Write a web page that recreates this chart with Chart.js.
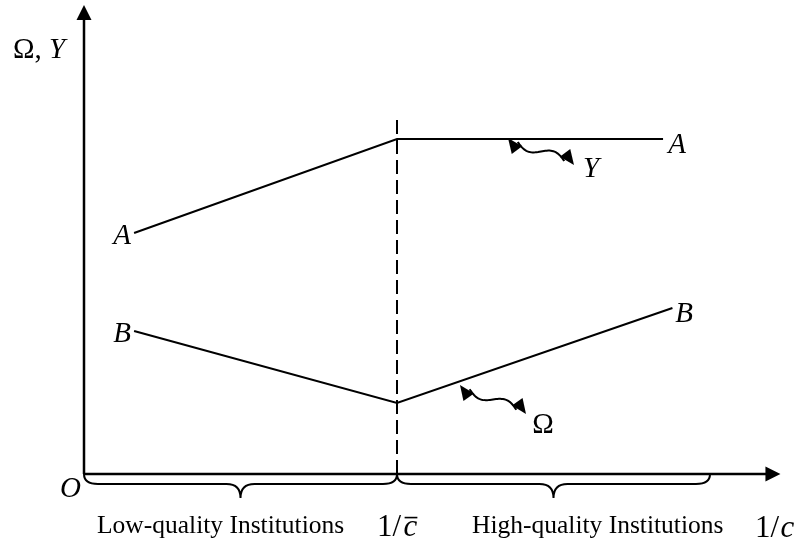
<!DOCTYPE html>
<html>
<head>
<meta charset="utf-8">
<script src="https://cdn.jsdelivr.net/npm/chart.js@4.4.0/dist/chart.umd.min.js"></script>
<style>
  html, body { margin: 0; padding: 0; background: #fff; }
  #wrap { width: 803px; height: 550px; }
</style>
</head>
<body>
<div id="wrap"><canvas id="diagram" width="803" height="550"></canvas></div>
<script>
// x axis: 1/c, scaled so the threshold 1/c-bar sits at 1
// y axis: Omega and Y, arbitrary units
const yCurveX = [0.16, 1.0, 1.85];
const yCurveVals = [2.41, 3.35, 3.35];       // curve A-A (Y)
const omegaCurveX = [0.16, 1.0, 1.88];
const omegaCurveVals = [1.43, 0.71, 1.66];   // curve B-B (Omega)
const threshold = 1.0;
const regionEdges = [0, 1.0, 2.0];
const regionLabels = ['Low-quality Institutions', 'High-quality Institutions'];

const SERIF = '"Liberation Serif", "Times New Roman", serif';

function toPoints(xs, ys) {
    return xs.map((x, i) => ({ x: x, y: ys[i] }));
}

// filled arrow head with tip at (x, y), pointing along angle a
function arrowHead(ctx, x, y, a, len, half) {
    ctx.save();
    ctx.translate(x, y);
    ctx.rotate(a);
    ctx.beginPath();
    ctx.moveTo(0, 0);
    ctx.lineTo(-len, -half);
    ctx.lineTo(-len, half);
    ctx.closePath();
    ctx.fill();
    ctx.restore();
}

// wavy double-headed arrow between two tips
function wavyArrow(ctx, x0, y0, x1, y1) {
    const dx = x1 - x0, dy = y1 - y0;
    const L = Math.hypot(dx, dy);
    const ux = dx / L, uy = dy / L;
    const nx = -uy, ny = ux;
    const head = 15, amp = 5;
    const pts = [];
    for (let i = 0; i <= 40; i++) {
        const t = i / 40;
        const s = head * 0.7 + t * (L - head * 1.4);
        const off = amp * Math.sin(2 * Math.PI * t);
        pts.push([x0 + ux * s + nx * off, y0 + uy * s + ny * off]);
    }
    ctx.beginPath();
    pts.forEach((p, i) => i ? ctx.lineTo(p[0], p[1]) : ctx.moveTo(p[0], p[1]));
    ctx.stroke();
    const a0 = Math.atan2(pts[0][1] - pts[3][1], pts[0][0] - pts[3][0]);
    const a1 = Math.atan2(pts[40][1] - pts[37][1], pts[40][0] - pts[37][0]);
    arrowHead(ctx, x0, y0, a0, head, 6.5);
    arrowHead(ctx, x1, y1, a1, head, 6.5);
}

function brace(ctx, xa, xb, yTop) {
    const mid = (xa + xb) / 2, yMid = yTop + 10, yTip = yTop + 24, r = 14;
    ctx.beginPath();
    ctx.moveTo(xa, yTop);
    ctx.quadraticCurveTo(xa, yMid, xa + r, yMid);
    ctx.lineTo(mid - r, yMid);
    ctx.quadraticCurveTo(mid, yMid, mid, yTip);
    ctx.quadraticCurveTo(mid, yMid, mid + r, yMid);
    ctx.lineTo(xb - r, yMid);
    ctx.quadraticCurveTo(xb, yMid, xb, yTop);
    ctx.stroke();
}

// draws pieces of text one after another; each piece [text, italic, size, overline]
function richText(ctx, x, y, pieces) {
    let cx = x;
    pieces.forEach(p => {
        ctx.font = (p[1] ? 'italic ' : '') + p[2] + 'px ' + SERIF;
        ctx.fillText(p[0], cx, y);
        const w = ctx.measureText(p[0]).width;
        if (p[3]) {
            ctx.fillRect(cx + 1, y - p[2] * 0.62, w - 1, 1.6);
        }
        cx += w;
    });
}

const diagramPlugin = {
    id: 'diagram',
    afterDatasetsDraw(chart) {
        const ctx = chart.ctx;
        const xs = chart.scales.x, ys = chart.scales.y;
        const px = v => xs.getPixelForValue(v);
        const py = v => ys.getPixelForValue(v);
        const ox = px(0), oy = py(0);

        ctx.save();
        ctx.strokeStyle = '#000';
        ctx.fillStyle = '#000';
        ctx.lineCap = 'butt';

        // axes with arrow heads
        ctx.lineWidth = 2.5;
        ctx.beginPath();
        ctx.moveTo(ox, oy);
        ctx.lineTo(ox, py(4.56));
        ctx.moveTo(ox, oy);
        ctx.lineTo(px(2.18), oy);
        ctx.stroke();
        arrowHead(ctx, ox, py(4.69), -Math.PI / 2, 15, 7.5);
        arrowHead(ctx, px(2.225), oy, 0, 15, 7.5);

        // threshold dashed line
        ctx.lineWidth = 2;
        ctx.setLineDash([14, 6]);
        ctx.beginPath();
        ctx.moveTo(px(threshold), oy);
        ctx.lineTo(px(threshold), py(3.56));
        ctx.stroke();
        ctx.setLineDash([]);

        // braces under the x axis
        ctx.lineWidth = 2;
        for (let i = 0; i < regionEdges.length - 1; i++) {
            brace(ctx, px(regionEdges[i]), px(regionEdges[i + 1]), oy);
        }

        // wavy arrows linking labels to curves
        ctx.lineWidth = 2;
        wavyArrow(ctx, 508, 138, 574, 165);
        wavyArrow(ctx, 460, 385, 526, 414);

        // labels
        ctx.textBaseline = 'alphabetic';
        ctx.textAlign = 'left';
        richText(ctx, 13, 58, [['\u03A9, ', false, 29], ['Y', true, 29]]);
        richText(ctx, 60, 497, [['O', true, 29]]);

        ctx.textAlign = 'center';
        ctx.font = 'italic 29px ' + SERIF;
        ctx.fillText('A', 122, 244);
        ctx.fillText('B', 122, 342);
        ctx.fillText('A', 677, 153);
        ctx.fillText('B', 684, 322);
        ctx.fillText('Y', 591, 177);
        ctx.font = '29px ' + SERIF;
        ctx.fillText('\u03A9', 543, 433);

        ctx.textAlign = 'left';
        ctx.font = '25.5px ' + SERIF;
        ctx.fillText(regionLabels[0], 97, 533);
        ctx.fillText(regionLabels[1], 472, 533);
        richText(ctx, 377, 536, [['1/', false, 31], [' ', false, 10], ['c', true, 31, true]]);
        richText(ctx, 755, 537, [['1/', false, 31], [' ', false, 6], ['c', true, 31]]);

        ctx.restore();
    }
};

new Chart(document.getElementById('diagram'), {
    type: 'scatter',
    data: {
        datasets: [
            {
                label: 'Y',
                data: toPoints(yCurveX, yCurveVals),
                showLine: true,
                borderColor: '#000',
                borderWidth: 2,
                pointRadius: 0,
                tension: 0
            },
            {
                label: '\u03A9',
                data: toPoints(omegaCurveX, omegaCurveVals),
                showLine: true,
                borderColor: '#000',
                borderWidth: 2,
                pointRadius: 0,
                tension: 0
            }
        ]
    },
    options: {
        responsive: false,
        devicePixelRatio: 1,
        animation: false,
        layout: { padding: 0 },
        plugins: {
            legend: { display: false },
            tooltip: { enabled: false }
        },
        scales: {
            x: { type: 'linear', display: false, min: -84 / 313, max: 719 / 313 },
            y: { type: 'linear', display: false, min: -0.76, max: 4.74 }
        }
    },
    plugins: [diagramPlugin]
});
</script>
</body>
</html>
